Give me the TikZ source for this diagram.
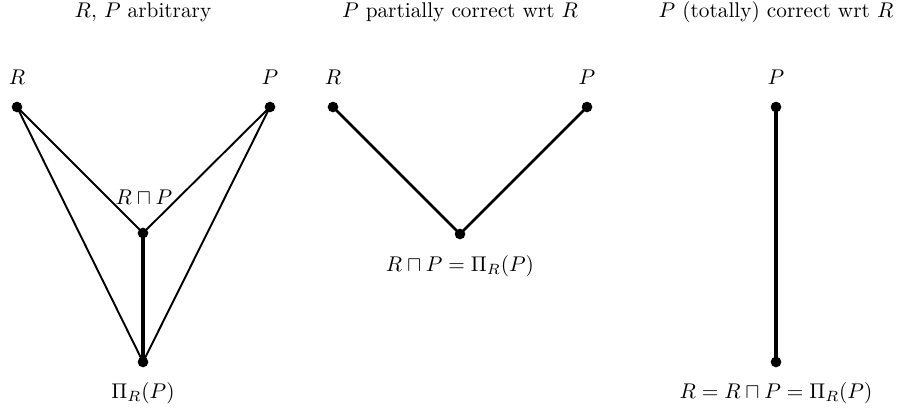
\documentclass[tikz,border=0pt]{standalone}
\begin{document}
\begin{tikzpicture}[x=0.47pt,y=-0.47pt,
  dot/.style={circle,fill=black,inner sep=0pt,minimum size=5pt},
  lbl/.style={inner sep=0pt},
  thinl/.style={line width=0.9pt},
  midl/.style={line width=1.2pt},
  thickl/.style={line width=1.6pt},
  heavyl/.style={line width=2.2pt}]
\useasboundingbox (0,0) rectangle (898,409);
% panel 1
\node[lbl] (t1) at (143,12) {$R$, $P$ arbitrary};
\node[dot] (r1) at (17,107) {};
\node[dot] (p1) at (270,107) {};
\node[dot] (m1) at (143,233) {};
\node[dot] (b1) at (143,362) {};
\node[lbl] (lr1) at (17,77) {$R$};
\node[lbl] (lp1) at (270,77) {$P$};
\node[lbl] (lm1) at (144,197) {$R\sqcap P$};
\node[lbl] (lb1) at (143,393) {$\Pi_R(P)$};
\draw[thinl] (r1.center) -- (m1.center);
\draw[thinl] (p1.center) -- (m1.center);
\draw[thinl] (r1.center) -- (b1.center);
\draw[thinl] (p1.center) -- (b1.center);
\draw[thickl] (m1.center) -- (b1.center);
% panel 2
\node[lbl] (t2) at (460,12) {$P$ partially correct wrt $R$};
\node[dot] (r2) at (333,107) {};
\node[dot] (p2) at (587,107) {};
\node[dot] (m2) at (460,234) {};
\node[lbl] (lr2) at (333,77) {$R$};
\node[lbl] (lp2) at (587,77) {$P$};
\node[lbl] (lm2) at (460,266) {$R\sqcap P=\Pi_R(P)$};
\draw[midl] (r2.center) -- (m2.center) -- (p2.center);
% panel 3
\node[lbl] (t3) at (776,12) {$P$ (totally) correct wrt $R$};
\node[dot] (p3) at (776,107) {};
\node[dot] (b3) at (776,362) {};
\node[lbl] (lp3) at (776,77) {$P$};
\node[lbl] (lb3) at (776,393) {$R=R\sqcap P=\Pi_R(P)$};
\draw[heavyl] (p3.center) -- (b3.center);
\end{tikzpicture}
\end{document}
